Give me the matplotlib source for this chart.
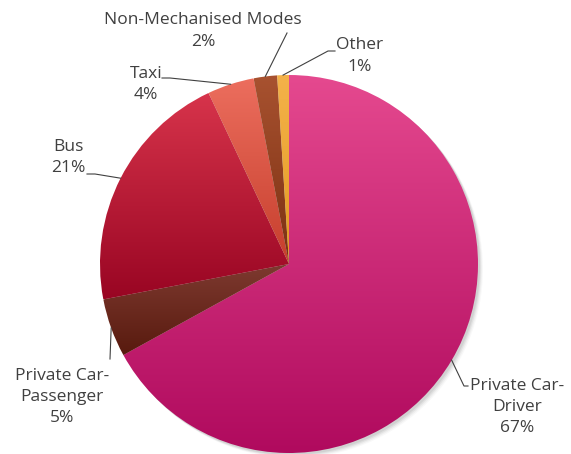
import numpy as np
import matplotlib.pyplot as plt
from matplotlib.colors import to_rgb
from matplotlib.patches import Circle

# data
modes = ['Private Car-\nDriver', 'Private Car-\nPassenger', 'Bus', 'Taxi',
         'Non-Mechanised Modes', 'Other']
shares = [67, 5, 21, 4, 2, 1]
top_cols = ['#E5498F', '#7E3A30', '#D7344B', '#EC6E5E', '#A85230', '#F4B24A']
bot_cols = ['#B00A5E', '#581A0E', '#990523', '#C63E2C', '#7C3012', '#E49A22']

# label layout (pixel coords from top-left), leader elbow points
label_pos = [(517, 407), (62, 397), (68, 157.5), (146, 84.5), (203, 31), (360, 56)]
leaders = [[(464, 386), (468, 386)],
           [(110, 359)],
           [(95, 174), (87, 174)],
           [(170, 78), (162, 78)],
           [(287, 33)],
           [(328, 51), (335, 51)]]

W, H = 571, 454
cx, cy, R = 289, H - 264, 189

plt.rcParams['font.family'] = ['Open Sans', 'DejaVu Sans']
fig = plt.figure(figsize=(W / 100, H / 100), dpi=100)
ax = fig.add_axes([0, 0, 1, 1])

# soft shadow
for off, a in [(5, 0.05), (4, 0.08), (3, 0.12), (2, 0.15)]:
    ax.add_patch(Circle((cx + off, cy - off), R, color='#808080', alpha=a, lw=0, zorder=0))

wedges, _ = ax.pie(shares, startangle=90, counterclock=False, center=(cx, cy),
                   radius=R, frame=True, wedgeprops=dict(linewidth=0))

for w, c1, c2 in zip(wedges, top_cols, bot_cols):
    w.set_facecolor('none')
    w.set_zorder(2)
    x0, y0, x1, y1 = w.get_path().get_extents().extents
    t = np.linspace(0, 1, 256)[:, None, None]
    grad = (1 - t) * np.array(to_rgb(c1)) + t * np.array(to_rgb(c2))
    im = ax.imshow(grad, extent=(x0, x1, y0, y1), origin='upper', aspect='auto',
                   interpolation='bilinear', zorder=1)
    im.set_clip_path(w)

for w, lab, share, (lx, ly), pts in zip(wedges, modes, shares, label_pos, leaders):
    ang = np.deg2rad((w.theta1 + w.theta2) / 2)
    xs = [cx + R * np.cos(ang)] + [p[0] for p in pts]
    ys = [cy + R * np.sin(ang)] + [H - p[1] for p in pts]
    ax.plot(xs, ys, color='#404040', lw=0.8, zorder=3)
    ax.text(lx, H - ly, '{}\n{}%'.format(lab, share), ha='center', va='center',
            fontsize=12.5, color='#404040', linespacing=1.45)

ax.set_xlim(0, W)
ax.set_ylim(0, H)
ax.axis('off')

fig.savefig('out.png', dpi=100)
